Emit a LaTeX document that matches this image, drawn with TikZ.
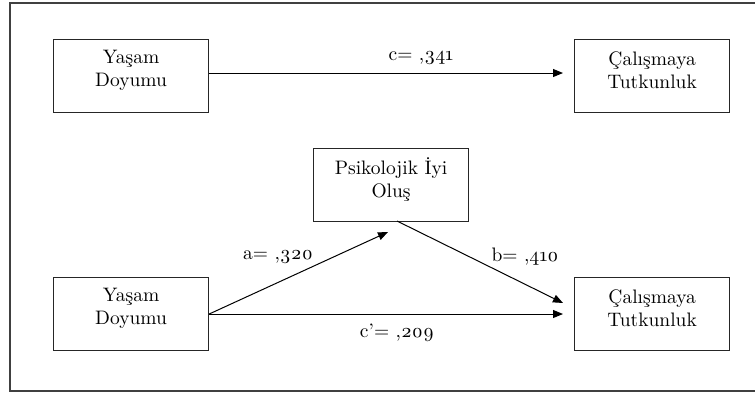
\documentclass[tikz,border=0pt]{standalone}
\usepackage{fontspec}
\setmainfont{lmroman10-regular.otf}[Numbers=OldStyle]
\usetikzlibrary{arrows.meta}
\tikzset{
  box/.style={draw=black!85, line width=1.2pt, minimum width=155pt, minimum height=73pt, inner sep=0pt, anchor=north west},
  boxtext/.style={align=center, font=\fontsize{19.5}{23}\selectfont, inner sep=0pt},
  lbl/.style={font=\fontsize{19.5}{23}\selectfont, inner sep=0pt},
  arr/.style={line width=1pt, -{Triangle[length=10pt,width=8pt]}},
  frame/.style={draw=black!75, line width=1.3pt}
}
\begin{document}
\begin{tikzpicture}[x=1pt,y=-1pt]
\useasboundingbox (0,0) rectangle (755,392);
\coordinate (f1) at (760,3);
\coordinate (f2) at (10,3);
\coordinate (f3) at (10,391);
\coordinate (f4) at (760,391);
\draw[frame] (f1) -- (f2) -- (f3) -- (f4);

% top row
\node[box] (yd1) at (53,39) {};
\node[boxtext] (yd1t) at ([yshift=6pt]yd1.center) {Yaşam\\Doyumu};
\node[box] (ct1) at (574,39) {};
\node[boxtext] (ct1t) at ([yshift=6pt]ct1.center) {Çalışmaya\\Tutkunluk};
\coordinate (t1) at (563,73);
\draw[arr] (yd1.east |- t1) -- (t1);
\node[lbl] (c1) at (421,58) {c= ,341};

% mediator
\node[box] (pio) at (313,148) {};
\node[boxtext] (piot) at ([yshift=6pt]pio.center) {Psikolojik İyi\\Oluş};

% bottom row
\node[box] (yd2) at (53,277) {};
\node[boxtext] (yd2t) at ([yshift=6pt]yd2.center) {Yaşam\\Doyumu};
\node[box] (ct2) at (574,277) {};
\node[boxtext] (ct2t) at ([yshift=6pt]ct2.center) {Çalışmaya\\Tutkunluk};

\coordinate (ta) at (388,232);
\coordinate (sb) at (397,221);
\coordinate (tb) at (563,303);
\coordinate (tc) at (563,314);
\draw[arr] (yd2.east |- tc) -- (ta);
\draw[arr] (sb) -- (tb);
\draw[arr] (yd2.east |- tc) -- (tc);

\node[lbl] (la) at (278,257) {a= ,320};
\node[lbl] (lb) at (525,257) {b= ,410};
\node[lbl] (lc) at (397,333) {c’= ,209};
\end{tikzpicture}
\end{document}
